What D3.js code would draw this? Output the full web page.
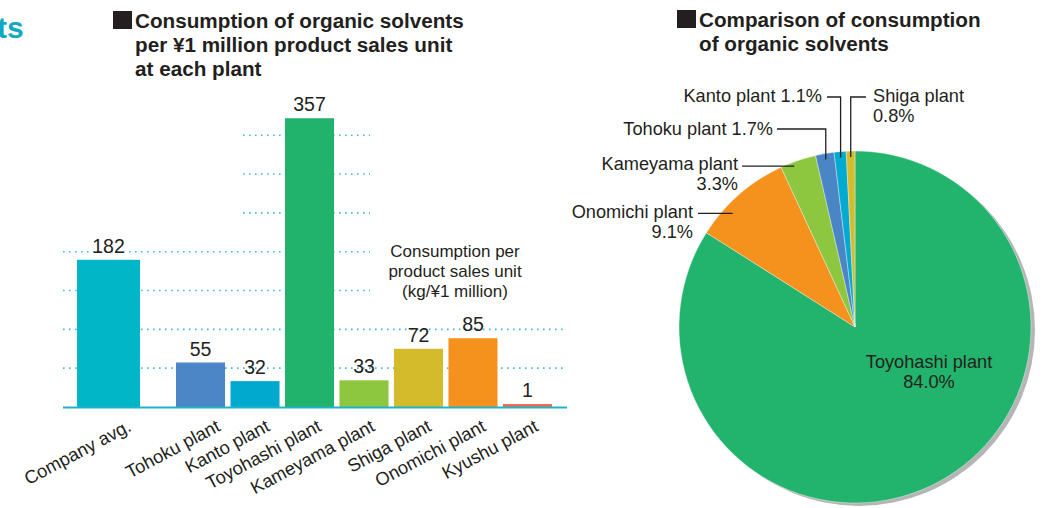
<!DOCTYPE html>
<html>
<head>
<meta charset="utf-8">
<title>organic solvents</title>
<style>
  body { margin: 0; background: #fff; }
  text { font-family: "Liberation Sans", Arial, sans-serif; fill: #231f20; }
</style>
</head>
<body>
<svg width="1056" height="508"></svg>
<script src="https://d3js.org/d3.v7.min.js"></script>
<script>

// bar chart data
var categories = ["Company avg.", "Tohoku plant", "Kanto plant", "Toyohashi plant", "Kameyama plant", "Shiga plant", "Onomichi plant", "Kyushu plant"];
var consumption = [182, 55, 32, 357, 33, 72, 85, 1];
var barColors = ["#00b6c7", "#4d86c6", "#00a9cd", "#21b26c", "#8dc63f", "#d3bb2b", "#f5921e", "#ef6d50"];
var gridValues = [48, 96, 144, 192, 240, 288, 336];

// pie data (clockwise from 12 o'clock)
var pieNames = ["Toyohashi plant", "Onomichi plant", "Kameyama plant", "Tohoku plant", "Kanto plant", "Shiga plant"];
var pieShares = [84.0, 9.1, 3.3, 1.7, 1.1, 0.8];
var pieColors = ["#22b36c", "#f5921e", "#8dc63f", "#4a86c5", "#00aad0", "#d4bc2c"];

var svg = d3.select("svg");

// ---------- titles ----------
svg.append("text")
    .attr("x", -3).attr("y", 38)
    .style("font-size", "30px").style("font-weight", "bold").style("fill", "#12a8c4")
    .text("ts");

function title(x, y, lines) {
  svg.append("rect").attr("x", x).attr("y", y - 17).attr("width", 19).attr("height", 18).attr("fill", "#231f20");
  var t = svg.append("text").attr("x", x + 22).attr("y", y)
      .style("font-size", "20.7px").style("font-weight", "bold");
  lines.forEach(function(l, i) {
    t.append("tspan").attr("x", x + 22).attr("dy", i ? 24 : 0).text(l);
  });
}
title(113, 28, ["Consumption of organic solvents", "per \u00a51 million product sales unit", "at each plant"]);
title(677, 27, ["Comparison of consumption", "of organic solvents"]);

// ---------- bar chart ----------
var y = d3.scaleLinear().domain([0, 360]).range([407, 115.8]);
var xAvg = d3.scaleBand().domain(categories.slice(0, 1)).range([77, 140]);
var xPlant = d3.scaleBand().domain(categories.slice(1)).range([176, 552]).paddingInner(0.1);
function xPos(c) { return c === categories[0] ? xAvg(c) : xPlant(c); }
function bw(c) { return c === categories[0] ? xAvg.bandwidth() : xPlant.bandwidth(); }

var bars = categories.map(function(c, i) { return {name: c, value: consumption[i], color: barColors[i]}; });

// dotted grid lines: lower two run across, the rest stop before the unit note
var gridSpan = [[63, 567], [63, 567], [63, 370], [63, 370], [243, 370], [243, 370], [243, 370]];
svg.append("g").selectAll("line")
  .data(gridValues)
  .join("line")
    .attr("x1", function(d, i) { return gridSpan[i][0]; })
    .attr("x2", function(d, i) { return gridSpan[i][1]; })
    .attr("y1", function(d) { return y(d); })
    .attr("y2", function(d) { return y(d); })
    .attr("stroke", "#3fbfd2")
    .attr("stroke-width", 1.6)
    .attr("stroke-dasharray", "1.6,4.4");

svg.append("g").selectAll("rect")
  .data(bars)
  .join("rect")
    .attr("x", function(d) { return xPos(d.name); })
    .attr("width", function(d) { return bw(d.name); })
    .attr("y", function(d) { return Math.min(y(d.value), y(0) - 3); })
    .attr("height", function(d) { return Math.max(y(0) - y(d.value), 3); })
    .attr("fill", function(d) { return d.color; });

svg.append("line")
    .attr("x1", 63).attr("x2", 567)
    .attr("y1", y(0) + 0.5).attr("y2", y(0) + 0.5)
    .attr("stroke", "#1fb3c9").attr("stroke-width", 2);

svg.append("g").selectAll("text")
  .data(bars)
  .join("text")
    .attr("x", function(d) { return xPos(d.name) + bw(d.name) / 2; })
    .attr("y", function(d) { return Math.min(y(d.value), y(0) - 3) - 7; })
    .attr("text-anchor", "middle")
    .style("font-size", "19.5px")
    .text(function(d) { return d.value; });

// rotated category labels, end of each label sits a little right of its bar centre
var labelShift = [24, 21, 16, 13, 12, 14, 14, 12];
svg.append("g").selectAll("text")
  .data(bars)
  .join("text")
    .attr("text-anchor", "end")
    .attr("transform", function(d, i) {
      return "translate(" + (xPos(d.name) + bw(d.name) / 2 + labelShift[i]) + ",430) rotate(-28)";
    })
    .style("font-size", "18.3px")
    .text(function(d) { return d.name; });

var note = svg.append("text").attr("x", 455).attr("y", 257)
    .attr("text-anchor", "middle").style("font-size", "17px");
["Consumption per", "product sales unit", "(kg/\u00a51 million)"].forEach(function(l, i) {
  note.append("tspan").attr("x", 455).attr("dy", i ? 20 : 0).text(l);
});

// ---------- pie ----------
var cx = 855, cy = 327, r = 176;
var slices = pieNames.map(function(n, i) { return {name: n, share: pieShares[i], color: pieColors[i]}; });
var pie = d3.pie().sort(null).value(function(d) { return d.share; });
var arc = d3.arc().innerRadius(0).outerRadius(r);

var pg = svg.append("g").attr("transform", "translate(" + cx + "," + cy + ")");
pg.append("circle").attr("cx", 4).attr("cy", 3).attr("r", r).attr("fill", "#b5b5b5");
var arcs = pie(slices);
pg.selectAll("path")
  .data(arcs)
  .join("path")
    .attr("d", arc)
    .attr("fill", function(d) { return d.data.color; })
    .attr("stroke", "#fff")
    .attr("stroke-width", 0.4);

function onSlice(a, t, rad) {
  var ang = a.startAngle + (a.endAngle - a.startAngle) * t;
  return [cx + rad * Math.sin(ang), cy - rad * Math.cos(ang)];
}
function fmt(v) { return v.toFixed(1) + "%"; }

// callouts: leader start x, leader level y, point on slice (fraction, radius), text
var callouts = [
  {i: 4, lx: 827, ly: 97, t: 0.5, rad: 170, elbow: true, tx: 822, ty: 102, anchor: "end", lines: function(d) { return [d.name + " " + fmt(d.share)]; }},
  {i: 5, lx: 866, ly: 97, t: 0.5, rad: 170, elbow: true, tx: 873, ty: 102, anchor: "start", lines: function(d) { return [d.name, fmt(d.share)]; }},
  {i: 3, lx: 777, ly: 129, t: 0.5, rad: 170, elbow: true, tx: 773, ty: 135, anchor: "end", lines: function(d) { return [d.name + " " + fmt(d.share)]; }},
  {i: 2, lx: 742, t: 0.35, rad: 172, elbow: false, tx: 738, ty: 170, anchor: "end", lines: function(d) { return [d.name, fmt(d.share)]; }},
  {i: 1, lx: 698, t: 0.32, rad: 167, elbow: false, tx: 693, ty: 218, anchor: "end", lines: function(d) { return [d.name, fmt(d.share)]; }}
];

callouts.forEach(function(c) {
  var a = arcs[c.i];
  var p = onSlice(a, c.t, c.rad);
  var pts = c.elbow ? [[c.lx, c.ly], [p[0], c.ly], p] : [[c.lx, p[1]], p];
  svg.append("path")
      .attr("d", d3.line()(pts))
      .attr("fill", "none")
      .attr("stroke", "#231f20")
      .attr("stroke-width", 1.3);
  var t = svg.append("text").attr("x", c.tx).attr("y", c.ty)
      .attr("text-anchor", c.anchor).style("font-size", "18.2px");
  c.lines(a.data).forEach(function(l, k) {
    t.append("tspan").attr("x", c.tx).attr("dy", k ? 20 : 0).text(l);
  });
});

var big = svg.append("text").attr("x", 929).attr("y", 368)
    .attr("text-anchor", "middle").style("font-size", "18.2px");
[slices[0].name, fmt(slices[0].share)].forEach(function(l, k) {
  big.append("tspan").attr("x", 929).attr("dy", k ? 20 : 0).text(l);
});

</script>
</body>
</html>
